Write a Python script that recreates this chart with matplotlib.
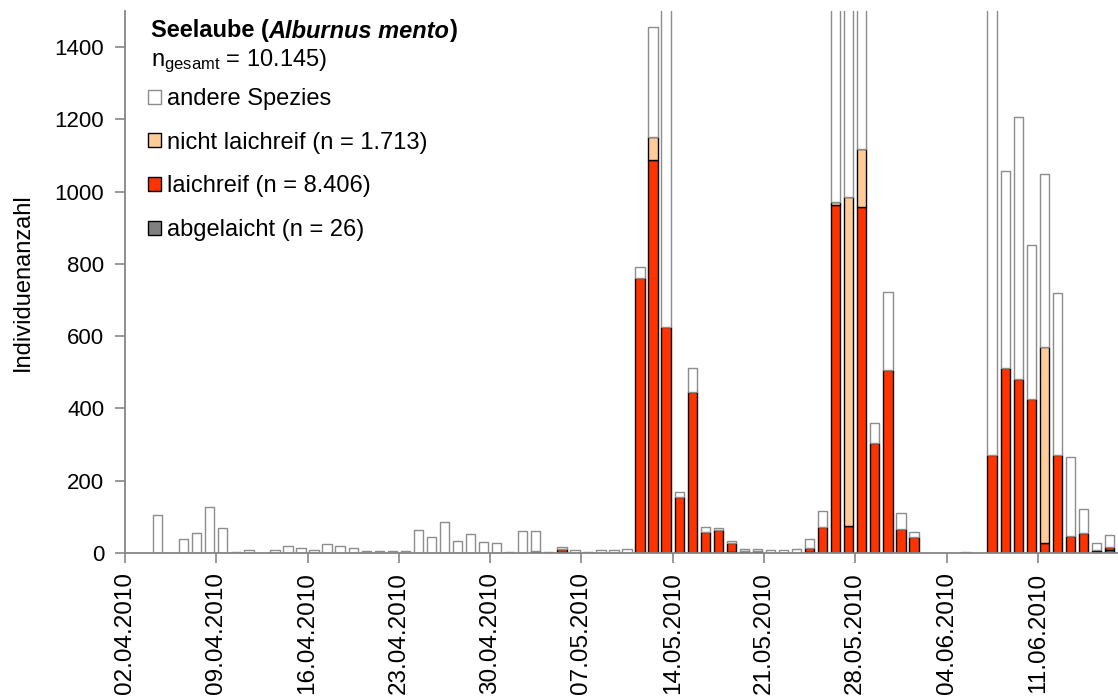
import numpy as np
import matplotlib
matplotlib.use("Agg")
import matplotlib.pyplot as plt
from matplotlib.offsetbox import TextArea, HPacker, AnnotationBbox

plt.rcParams['font.family'] = ['Liberation Sans', 'DejaVu Sans']
plt.rcParams['mathtext.fontset'] = 'custom'
plt.rcParams['mathtext.rm'] = 'Liberation Sans'
plt.rcParams['mathtext.it'] = 'Liberation Sans:italic'
plt.rcParams['mathtext.bf'] = 'Liberation Sans:bold'

# daily catches 02.04.2010 - 16.06.2010 (76 days)
tick_labels = ["02.04.2010", "09.04.2010", "16.04.2010", "23.04.2010", "30.04.2010",
               "07.05.2010", "14.05.2010", "21.05.2010", "28.05.2010", "04.06.2010",
               "11.06.2010"]

abgelaicht = [
    0, 0, 0, 0, 0, 0, 0, 0, 0, 0,
    0, 0, 0, 0, 0, 0, 0, 0, 0, 0,
    0, 0, 0, 0, 0, 0, 0, 0, 0, 0,
    0, 0, 0, 3, 0, 0, 0, 0, 0, 0,
    0, 0, 0, 0, 0, 0, 3, 2, 2, 0,
    0, 0, 2, 0, 0, 0, 0, 0, 0, 0,
    1, 0, 0, 0, 0, 0, 0, 0, 0, 0,
    0, 0, 0, 0, 5, 8]

laichreif = [
    0, 0, 0, 0, 0, 0, 0, 0, 0, 0,
    0, 0, 0, 0, 0, 0, 0, 0, 0, 0,
    0, 0, 0, 0, 0, 0, 0, 0, 0, 0,
    0, 2, 0, 9, 0, 0, 0, 0, 0, 761,
    1088, 626, 154, 445, 57, 64, 24, 4, 4, 0,
    0, 0, 12, 73, 962, 75, 958, 304, 507, 66,
    44, 0, 0, 0, 0, 0, 272, 511, 482, 426,
    28, 271, 47, 55, 3, 9]

nicht_laichreif = [
    0, 0, 0, 0, 0, 0, 0, 0, 0, 0,
    0, 0, 0, 0, 0, 0, 0, 0, 0, 0,
    0, 0, 0, 0, 0, 0, 0, 0, 0, 0,
    0, 4, 0, 0, 0, 0, 0, 0, 0, 0,
    64, 0, 0, 0, 0, 0, 0, 0, 0, 0,
    0, 0, 0, 0, 10, 909, 159, 0, 0, 0,
    0, 0, 0, 0, 0, 0, 0, 0, 0, 0,
    543, 0, 0, 0, 0, 0]

andere = [
    0, 0, 106, 0, 38, 55, 127, 68, 4, 8,
    0, 8, 18, 14, 9, 26, 18, 14, 6, 5,
    5, 5, 64, 43, 85, 34, 52, 30, 29, 4,
    61, 55, 4, 5, 8, 4, 7, 7, 12, 30,
    304, 1950, 14, 67, 14, 6, 6, 6, 6, 7,
    7, 12, 24, 44, 1100, 900, 800, 57, 215, 46,
    13, 0, 0, 0, 3, 0, 1700, 545, 725, 427,
    477, 449, 218, 67, 21, 32]

fig = plt.figure(figsize=(11.18, 6.97), dpi=100)
ax = fig.add_axes([125 / 1118, 144 / 697, 1 - 125 / 1118, 542 / 697])

x = np.arange(len(andere)) + 0.5
bottom = np.zeros(len(andere))
series = [
    (abgelaicht, "#808080", "black", "abgelaicht (n = 26)"),
    (laichreif, "#ff3300", "black", "laichreif (n = 8.406)"),
    (nicht_laichreif, "#ffcc99", "black", "nicht laichreif (n = 1.713)"),
    (andere, "white", "#8c8c8c", "andere Spezies"),
]
handles = []
for vals, fc, ec, lab in series:
    v = np.array(vals, dtype=float)
    m = v > 0
    b = ax.bar(x[m], v[m], width=0.72, bottom=bottom[m], color=fc,
               edgecolor=ec, linewidth=1.0, label=lab)
    handles.append(b)
    bottom += v

ax.set_xlim(0, (1118 - 125) / 13.04)
ax.set_ylim(0, 1500)
ax.set_yticks(range(0, 1401, 200))
ax.set_xticks(np.arange(0, 71, 7))
ax.set_xticklabels(tick_labels, rotation=90, fontsize=17.5)
ax.tick_params(axis='y', labelsize=16, length=7, width=1.2, color="#868686", pad=8)
ax.tick_params(axis='x', length=7, width=1.2, color="#868686", pad=7)
for s in ["top", "right"]:
    ax.spines[s].set_visible(False)
for s in ["left", "bottom"]:
    ax.spines[s].set_color("#868686")
    ax.spines[s].set_linewidth(1.3)

fig.text(23 / 1118, 1 - 282 / 697, "Individuenanzahl", rotation=90,
         ha='center', va='center', fontsize=17)

# title block
title = HPacker(children=[
    TextArea("Seelaube (", textprops=dict(fontsize=17, fontweight='bold')),
    TextArea("Alburnus mento", textprops=dict(fontsize=17, fontweight='bold', style='italic')),
    TextArea(")", textprops=dict(fontsize=17, fontweight='bold')),
], sep=0, pad=0)
ab = AnnotationBbox(title, (151, 697 - 31), xycoords='figure pixels',
                    box_alignment=(0, 0.5), frameon=False, pad=0)
fig.add_artist(ab)
fig.text(151 / 1118, 1 - 61 / 697, r"n$_{\mathrm{gesamt}}$ = 10.145)",
         fontsize=17, va='center')

leg = ax.legend(handles=handles[::-1], loc='upper left',
                bbox_to_anchor=(148 / 1118, 1 - 88 / 697),
                bbox_transform=fig.transFigure, frameon=False,
                fontsize=17, handlelength=0.55, handleheight=0.55,
                handletextpad=0.25, labelspacing=0.92, borderpad=0,
                borderaxespad=0)

fig.savefig("out.png", dpi=100)
